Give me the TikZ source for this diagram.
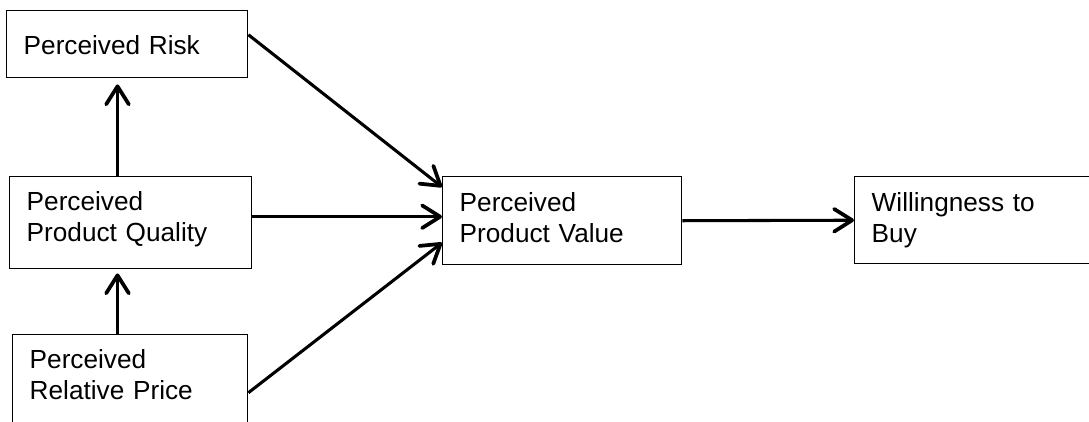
\documentclass[tikz,border=0pt]{standalone}
\usepackage{fontspec}
\setmainfont{Liberation Sans}
\usetikzlibrary{arrows.meta}

\begin{document}
\begin{tikzpicture}[x=0.02636cm,y=-0.02636cm,
  factor/.style={draw,line width=1.1pt,anchor=north west,align=left,
    inner xsep=12.75pt,inner ysep=0pt,text height=14.7pt,text depth=28.15pt,
    font=\fontsize{19.65pt}{23.25pt}\selectfont},
  path arrow/.style={-{Straight Barb[length=13.5pt,width=17pt,line width=2.8pt,round]},line width=2.3pt}]
\useasboundingbox (0,0) rectangle (1089,421);
\node[factor,text width=155.25pt,minimum height=50.25pt,text depth=0pt] (risk) at (6,10) {Perceived Risk};
\node[factor,text width=156pt,minimum height=69pt,text depth=32.6pt] (quality) at (9,176) {Perceived\\Product Quality};
\node[factor,text width=150.75pt,minimum height=69pt,text depth=32.6pt] (price) at (12,334) {Perceived\\Relative Price};
\node[factor,text width=153.75pt,minimum height=66pt] (value) at (442,176) {Perceived\\Product Value};
\node[factor,text width=169.5pt,minimum height=65.25pt] (willing) at (854,176) {Willingness to\\Buy};
\coordinate (spine) at (117.5,0);
\draw[path arrow] (quality.north -| spine) -- ([yshift=-4.5pt]risk.south -| spine);
\draw[path arrow] (price.north -| spine) -- ([yshift=-3pt]quality.south -| spine);
\draw[path arrow] ([yshift=7.1pt]risk.east) -- ([yshift=-8.25pt]value.north west);
\draw[path arrow] ([yshift=4.5pt]quality.east) -- ([yshift=3pt]value.west);
\draw[path arrow] ([yshift=-9pt]price.east) -- ([yshift=-16.5pt]value.west);
\draw[path arrow] (value.east) -- (willing.west);
\end{tikzpicture}
\end{document}
